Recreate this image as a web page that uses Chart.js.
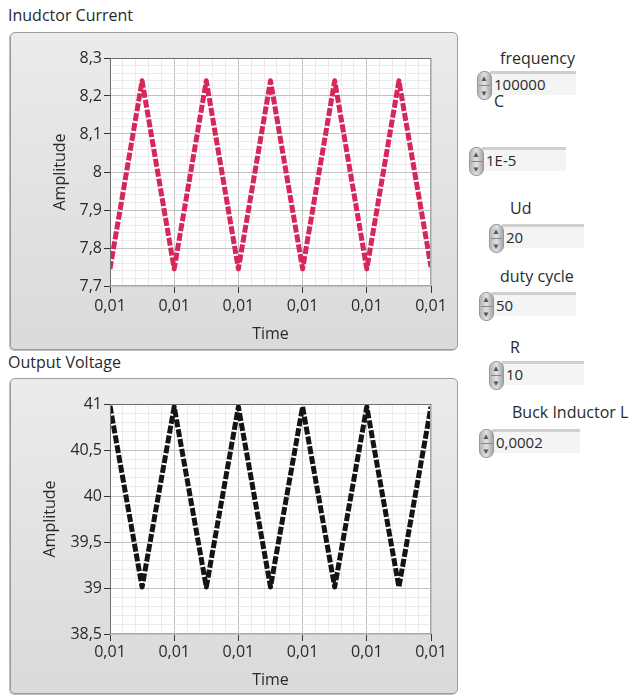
<!DOCTYPE html>
<html>
<head>
<meta charset="utf-8">
<script src="https://cdn.jsdelivr.net/npm/chart.js@4.4.1/dist/chart.umd.min.js"></script>
<style>
    body { margin: 0; width: 642px; height: 697px; background: #fff; overflow: hidden; position: relative; font-family: 'Open Sans', 'Noto Sans', sans-serif; color: #2a2a2a; }
    .title { position: absolute; left: 8px; font-size: 16px; line-height: 18px; }
    .frame { position: absolute; left: 10px; width: 446px; border: 1px solid #9c9c9c; border-radius: 5px;
             background: linear-gradient(#ebebeb, #dadada); box-shadow: -1px 1px 0 #bcbcbc; }
    .frame canvas { position: absolute; left: 0; top: 0; }
    .lbl { position: absolute; font-size: 16px; line-height: 18px; color: #2a2a2a; }
    .spin { position: absolute; width: 13px; height: 27px; border-radius: 7px; z-index: 2;
            background: linear-gradient(90deg, #b5b5b5, #e2e2e2 50%, #a5a5a5); border: 1px solid #999; }
    .spin::before, .spin::after { position: absolute; left: 2px; font-size: 8px; color: #555; line-height: 8px; }
    .spin::before { content: '\25B2'; top: 2px; }
    .spin::after { content: '\25BC'; bottom: 2px; }
    .spin i { position: absolute; left: 1px; right: 1px; top: 13px; border-top: 1px solid #888; }
    .box { position: absolute; height: 21px; background: #f4f4f4; border-top: 3px solid #cfcfcf; font-size: 15px; line-height: 21px; padding-left: 4px; z-index: 1; }
</style>
</head>
<body>
<div class="title" style="top:6px">Inudctor Current</div>
<div class="frame" style="top:32px;height:316px"><canvas id="currentChart" width="448" height="318"></canvas></div>
<div class="title" style="top:353px">Output Voltage</div>
<div class="frame" style="top:378px;height:314px"><canvas id="voltageChart" width="448" height="316"></canvas></div>

<div class="lbl" style="left:500px;top:49px">frequency</div>
<div class="spin" style="left:477px;top:71px"><i></i></div>
<div class="box" style="left:490px;top:71px;width:82px">100000</div>
<div class="lbl" style="left:494px;top:92px;z-index:3">C</div>
<div class="spin" style="left:469px;top:147px"><i></i></div>
<div class="box" style="left:482px;top:147px;width:80px">1E-5</div>
<div class="lbl" style="left:510px;top:199px">Ud</div>
<div class="spin" style="left:489px;top:224px"><i></i></div>
<div class="box" style="left:502px;top:224px;width:78px">20</div>
<div class="lbl" style="left:500px;top:267px">duty cycle</div>
<div class="spin" style="left:479px;top:292px"><i></i></div>
<div class="box" style="left:492px;top:292px;width:80px">50</div>
<div class="lbl" style="left:510px;top:338px">R</div>
<div class="spin" style="left:489px;top:361px"><i></i></div>
<div class="box" style="left:502px;top:361px;width:78px">10</div>
<div class="lbl" style="left:512px;top:403px">Buck Inductor L</div>
<div class="spin" style="left:479px;top:429px"><i></i></div>
<div class="box" style="left:492px;top:429px;width:84px">0,0002</div>

<script>
// time axis in microseconds from the start of the window (5 switching periods at 100 kHz)
const timeUs = [0, 5, 10, 15, 20, 25, 30, 35, 40, 45, 50];
const inductorCurrent = [7.745, 8.24, 7.745, 8.24, 7.745, 8.24, 7.745, 8.24, 7.745, 8.24, 7.75];
const outputVoltage = [40.98, 39.01, 40.97, 39.01, 40.97, 39.01, 40.97, 39.01, 40.97, 39.01, 40.97];

const xTickLabels = ['0,01', '0,01', '0,01', '0,01', '0,01', '0,01'];
const currentTickLabels = ['7,7', '7,8', '7,9', '8', '8,1', '8,2', '8,3'];
const voltageTickLabels = ['38,5', '39', '39,5', '40', '40,5', '41'];

const FONT = { family: "'Open Sans', 'Noto Sans', sans-serif", size: 16 };
const TXT = '#2a2a2a';

// white plot background + frame around it
const plotBox = {
    id: 'plotBox',
    beforeDraw(chart) {
        const a = chart.chartArea, ctx = chart.ctx;
        ctx.save();
        ctx.fillStyle = '#fff';
        ctx.fillRect(a.left, a.top, a.right - a.left, a.bottom - a.top);
        ctx.restore();
    },
    afterDraw(chart) {
        const a = chart.chartArea, ctx = chart.ctx;
        ctx.save();
        ctx.strokeStyle = '#a8a8a8';
        ctx.lineWidth = 1;
        ctx.strokeRect(a.left + 0.5, a.top + 0.5, a.right - a.left - 1, a.bottom - a.top - 1);
        ctx.strokeStyle = '#6e6e6e';
        ctx.beginPath();
        ctx.moveTo(a.left + 0.5, a.bottom);
        ctx.lineTo(a.left + 0.5, a.top + 0.5);
        ctx.lineTo(a.right, a.top + 0.5);
        ctx.stroke();
        ctx.restore();
    }
};

function isMajor(v, min, step) {
    const k = (v - min) / step;
    return Math.abs(k - Math.round(k)) < 1e-6;
}

function makeChart(id, values, color, yMin, yMax, yMajor, yLabels, cfg) {
    const ctx = document.getElementById(id).getContext('2d');
    return new Chart(ctx, {
        type: 'line',
        data: {
            datasets: [{
                data: timeUs.map((t, i) => ({ x: t, y: values[i] })),
                borderColor: color,
                borderWidth: 5,
                borderDash: [8, 2],
                borderJoinStyle: 'round',
                pointRadius: 0,
                tension: 0,
                fill: false
            }]
        },
        options: {
            responsive: false,
            animation: false,
            layout: { padding: { top: 25, right: 28, left: 0, bottom: 0 } },
            plugins: { legend: { display: false }, tooltip: { enabled: false } },
            scales: {
                x: {
                    type: 'linear',
                    min: 0,
                    max: 50,
                    afterFit: s => { s.height = cfg.xHeight; },
                    ticks: {
                        stepSize: 2,
                        autoSkip: false,
                        maxRotation: 0,
                        padding: cfg.xPad,
                        color: TXT,
                        font: FONT,
                        callback: v => isMajor(v, 0, 10) ? xTickLabels[Math.round(v / 10)] : ''
                    },
                    grid: {
                        color: c => isMajor(c.tick.value, 0, 10) ? '#c2c2c2' : '#ebebeb',
                        tickColor: c => isMajor(c.tick.value, 0, 10) ? '#333' : 'rgba(0,0,0,0)',
                        tickLength: 7
                    },
                    border: { display: false },
                    title: { display: true, text: 'Time', color: TXT, font: FONT, padding: { top: 0, bottom: cfg.xTitlePad } }
                },
                y: {
                    min: yMin,
                    max: yMax,
                    afterFit: s => { s.width = 99; },
                    ticks: {
                        stepSize: yMajor / 5,
                        autoSkip: false,
                        padding: 2,
                        color: TXT,
                        font: FONT,
                        callback: v => isMajor(v, yMin, yMajor) ? yLabels[Math.round((v - yMin) / yMajor)] : ''
                    },
                    grid: {
                        color: c => isMajor(c.tick.value, yMin, yMajor) ? '#c2c2c2' : '#ebebeb',
                        tickColor: c => isMajor(c.tick.value, yMin, yMajor) ? '#333' : 'rgba(0,0,0,0)',
                        tickLength: 6
                    },
                    border: { display: false },
                    title: { display: true, text: 'Amplitude', color: TXT, font: FONT, padding: { top: cfg.yTitlePad, bottom: 0 } }
                }
            }
        },
        plugins: [plotBox]
    });
}

makeChart('currentChart', inductorCurrent, '#d6265a', 7.7, 8.3, 0.1, currentTickLabels,
    { xHeight: 65, xPad: 4, xTitlePad: 7, yTitlePad: 40 });
makeChart('voltageChart', outputVoltage, '#141414', 38.5, 41, 0.5, voltageTickLabels,
    { xHeight: 61, xPad: 2, xTitlePad: 5, yTitlePad: 30 });
</script>
</body>
</html>
